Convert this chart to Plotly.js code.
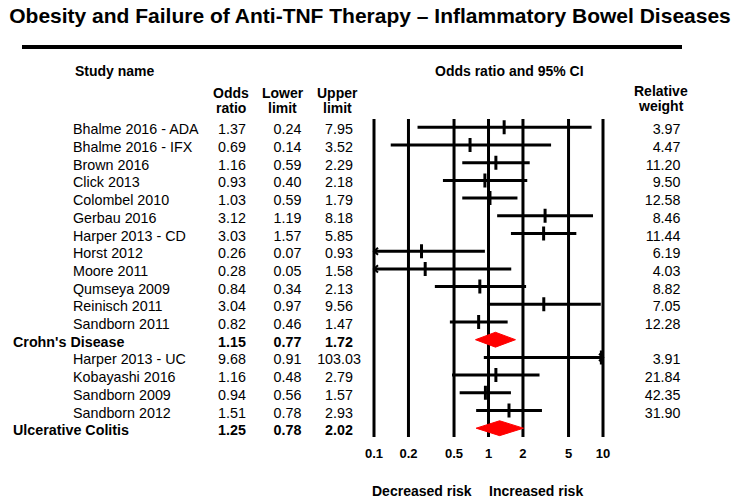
<!DOCTYPE html>
<html>
<head>
<meta charset="utf-8">
<script src="https://cdn.plot.ly/plotly-3.0.1.min.js"></script>
<style>html,body{margin:0;padding:0;background:#fff;}#chart{width:740px;height:503px;}</style>
</head>
<body>
<div id="chart"></div>
<script>
// ---- data ----
const studyNames = ["Bhalme 2016 - ADA","Bhalme 2016 - IFX","Brown 2016","Click 2013","Colombel 2010","Gerbau 2016","Harper 2013 - CD","Horst 2012","Moore 2011","Qumseya 2009","Reinisch 2011","Sandborn 2011","Crohn's Disease","Harper 2013 - UC","Kobayashi 2016","Sandborn 2009","Sandborn 2012","Ulcerative Colitis"];
const isSummary = [0,0,0,0,0,0,0,0,0,0,0,0,1,0,0,0,0,1];
const oddsRatio = [1.37,0.69,1.16,0.93,1.03,3.12,3.03,0.26,0.28,0.84,3.04,0.82,1.15,9.68,1.16,0.94,1.51,1.25];
const lowerLimit = [0.24,0.14,0.59,0.40,0.59,1.19,1.57,0.07,0.05,0.34,0.97,0.46,0.77,0.91,0.48,0.56,0.78,0.78];
const upperLimit = [7.95,3.52,2.29,2.18,1.79,8.18,5.85,0.93,1.58,2.13,9.56,1.47,1.72,103.03,2.79,1.57,2.93,2.02];
const relWeight = [3.97,4.47,11.20,9.50,12.58,8.46,11.44,6.19,4.03,8.82,7.05,12.28,null,3.91,21.84,42.35,31.90,null];
const tickVals = [0.1,0.2,0.5,1,2,5,10];
const tickText = ["0.1","0.2","0.5","1","2","5","10"];

// ---- layout constants (pixels) ----
const W = 740, H = 503;
const X_MIN = 0.1, X_MAX = 10;
const PX_LEFT = 374, PX_RIGHT = 603;
const pxPerDec = (PX_RIGHT - PX_LEFT) / (Math.log10(X_MAX) - Math.log10(X_MIN));
const PAD = 0.05;
const xr = [Math.log10(X_MIN) - PAD, Math.log10(X_MAX) + PAD];
const xdom = [(PX_LEFT - PAD * pxPerDec) / W, (PX_RIGHT + PAD * pxPerDec) / W];
const ROW_TOP = 127.3, ROW_STEP = 17.7, TEXT_TOP = 130.8;
const yr = [(H - ROW_TOP) / ROW_STEP, -ROW_TOP / ROW_STEP];
const y2r = [(H - TEXT_TOP) / ROW_STEP, -TEXT_TOP / ROW_STEP];
const FONT = "Liberation Sans, Arial, Helvetica, sans-serif";
const nRows = studyNames.length;
const rows = studyNames.map((_, i) => i);
const py = p => 1 - p / H;
const px = p => p / W;

const traces = [];

// vertical reference lines
const vx = [], vy = [];
tickVals.forEach(v => { vx.push(v, v, null); vy.push(-0.47, nRows - 0.5, null); });
traces.push({type:'scatter', mode:'lines', x:vx, y:vy, line:{color:'#000', width:3}, hoverinfo:'skip', showlegend:false});

// CI lines
const cx = [], cy = [];
rows.forEach(i => {
  if (isSummary[i]) return;
  cx.push(Math.max(lowerLimit[i], X_MIN), Math.min(upperLimit[i], X_MAX), null);
  cy.push(i, i, null);
});
traces.push({type:'scatter', mode:'lines', x:cx, y:cy, line:{color:'#000', width:3}, hoverinfo:'skip', showlegend:false});

// arrowheads for truncated intervals
const ARW = Math.pow(10, 4 / pxPerDec), ARH = 0.2;
const ax = [], ay = [];
rows.forEach(i => {
  if (isSummary[i]) return;
  if (lowerLimit[i] < X_MIN) { ax.push(X_MIN * ARW, X_MIN, X_MIN * ARW, null); ay.push(i - ARH, i, i + ARH, null); }
  if (upperLimit[i] > X_MAX) { ax.push(X_MAX / ARW, X_MAX, X_MAX / ARW, null); ay.push(i - ARH, i, i + ARH, null); }
});
traces.push({type:'scatter', mode:'lines', x:ax, y:ay, line:{color:'#000', width:2}, hoverinfo:'skip', showlegend:false});

// point estimates
const pi = rows.filter(i => !isSummary[i]);
traces.push({type:'scatter', mode:'markers', x:pi.map(i => oddsRatio[i]), y:pi,
  marker:{symbol:'line-ns', size:10, line:{color:'#000', width:3}}, hoverinfo:'skip', showlegend:false});

// summary diamonds
const DH = 0.42;
rows.filter(i => isSummary[i]).forEach(i => {
  traces.push({type:'scatter', mode:'lines', fill:'toself', fillcolor:'#ff0000',
    x:[lowerLimit[i], oddsRatio[i], upperLimit[i], oddsRatio[i], lowerLimit[i]],
    y:[i, i - DH, i, i + DH, i], line:{color:'#ff0000', width:1}, hoverinfo:'skip', showlegend:false});
});

// tick labels
traces.push({type:'scatter', mode:'text', x:tickVals, y:tickVals.map(() => (454.5 - ROW_TOP) / ROW_STEP),
  text:tickText.map(t => '<b>' + t + '</b>'), textposition:'middle center', cliponaxis:false,
  textfont:{family:FONT, size:13, color:'#000'}, hoverinfo:'skip', showlegend:false});

// table columns (separate full-width subplot x2/y2)
const bold = (s, i) => isSummary[i] ? '<b>' + s + '</b>' : s;
const tf = {family:FONT, size:14.3, color:'#000'};
const base = {type:'scatter', mode:'text', xaxis:'x2', yaxis:'y2', textfont:tf, cliponaxis:false, hoverinfo:'skip', showlegend:false};
traces.push(Object.assign({}, base, {x:rows.map(i => isSummary[i] ? 13 : 73), y:rows,
  text:rows.map(i => bold(studyNames[i], i)), textposition:'middle right'}));
traces.push(Object.assign({}, base, {x:rows.map(() => 232), y:rows,
  text:rows.map(i => bold(oddsRatio[i].toFixed(2), i)), textposition:'middle center'}));
traces.push(Object.assign({}, base, {x:rows.map(() => 287.5), y:rows,
  text:rows.map(i => bold(lowerLimit[i].toFixed(2), i)), textposition:'middle center'}));
traces.push(Object.assign({}, base, {x:rows.map(() => 339), y:rows,
  text:rows.map(i => bold(upperLimit[i].toFixed(2), i)), textposition:'middle center'}));
const wi = rows.filter(i => relWeight[i] !== null);
traces.push(Object.assign({}, base, {x:wi.map(() => 680.5), y:wi,
  text:wi.map(i => relWeight[i].toFixed(2)), textposition:'middle left'}));

const hf = {family:FONT, size:14, color:'#000', weight:'bold'};
function ann(text, x, y, xanchor, font) {
  return {text:text, xref:'paper', yref:'paper', x:px(x), y:py(y), xanchor:xanchor||'center', yanchor:'middle', showarrow:false, font:font||hf};
}
const annotations = [
  ann('Study name', 73, 71, 'left'),
  ann('Odds ratio and 95% CI', 509.5, 71),
  ann('Odds', 231, 93),
  ann('ratio', 231, 107.5),
  ann('Lower', 282.5, 93),
  ann('limit', 282.5, 107.5),
  ann('Upper', 337.5, 93),
  ann('limit', 337.5, 107.5),
  ann('Relative', 661, 91.5),
  ann('weight', 661, 106.5),
  ann('Decreased risk', 421.5, 491),
  ann('Increased risk', 535.5, 491),
];

const layout = {
  width:W, height:H, margin:{l:0, r:0, t:0, b:0, pad:0},
  paper_bgcolor:'#fff', plot_bgcolor:'rgba(0,0,0,0)',
  title:{text:'Obesity and Failure of Anti-TNF Therapy \u2013 Inflammatory Bowel Diseases', x:0.5, xanchor:'center', xref:'paper', y:1 - 16 / H, yanchor:'middle', yref:'paper',
    font:{family:FONT, size:21, color:'#000', weight:'bold'}},
  xaxis:{type:'log', range:xr, domain:xdom, anchor:'y', visible:false, showgrid:false, zeroline:false, fixedrange:true},
  yaxis:{range:yr, domain:[0,1], anchor:'x', visible:false, showgrid:false, zeroline:false, fixedrange:true},
  xaxis2:{range:[0, W], domain:[0,1], anchor:'y2', visible:false, showgrid:false, zeroline:false, fixedrange:true},
  yaxis2:{range:y2r, domain:[0,1], anchor:'x2', visible:false, showgrid:false, zeroline:false, fixedrange:true},
  shapes:[{type:'line', xref:'paper', yref:'paper', x0:px(22), x1:px(682), y0:py(47), y1:py(47), line:{color:'#000', width:4}}],
  annotations:annotations,
  showlegend:false
};

Plotly.newPlot('chart', traces, layout, {staticPlot:true, displayModeBar:false});
</script>
</body>
</html>
